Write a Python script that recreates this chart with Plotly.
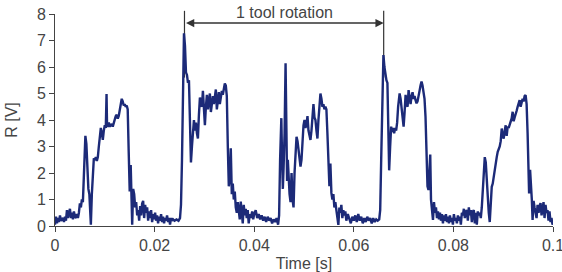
import plotly.graph_objects as go

# Signal samples: (time in ms, R in V), split by region
baseline_start = [(0.0, 0.05), (0.2, 0.35), (0.4, 0.1), (0.6, 0.3), (0.8, 0.15), (1.0, 0.4), (1.2, 0.2),
                  (1.4, 0.25), (1.6, 0.3), (1.8, 0.15), (2.0, 0.35), (2.2, 0.2), (2.4, 0.6), (2.6, 0.3),
                  (2.8, 0.45), (3.0, 0.65), (3.2, 0.3), (3.4, 0.5), (3.6, 0.25), (3.8, 0.55), (4.0, 0.35),
                  (4.2, 0.3), (4.4, 0.45), (4.6, 0.3), (4.8, 0.5), (5.0, 0.85), (5.2, 0.7), (5.4, 1.0),
                  (5.6, 0.9), (5.8, 2.0)]
pulse_1 = [(6.1, 3.4), (6.3, 3.1), (6.5, 2.2), (6.7, 1.4), (6.9, 1.2), (7.1, 0.5), (7.2, 0.05), (7.4, 1.2),
           (7.6, 2.2), (7.8, 2.55), (8.0, 2.5), (8.2, 2.6), (8.4, 2.45), (8.6, 2.6), (8.8, 3.0), (9.0, 3.4),
           (9.2, 3.7), (9.4, 3.5), (9.6, 3.25), (9.8, 3.6), (10.0, 3.8), (10.2, 3.7), (10.35, 4.98),
           (10.45, 3.8), (10.6, 3.75), (10.8, 3.9), (11.0, 3.75), (11.2, 3.8), (11.4, 3.85), (11.6, 3.75),
           (11.8, 3.9), (12.0, 4.05), (12.2, 4.15), (12.4, 4.2), (12.6, 4.05), (12.8, 4.15), (13.0, 4.4),
           (13.2, 4.6), (13.4, 4.8), (13.6, 4.7), (13.8, 4.55), (14.0, 4.6), (14.2, 4.5), (14.4, 4.55),
           (14.6, 4.4), (14.8, 2.8), (14.9, 1.5), (15.0, 1.3), (15.2, 2.3), (15.35, 1.0), (15.5, 0.05),
           (15.7, 1.4), (15.9, 1.2), (16.1, 0.7), (16.3, 0.9), (16.5, 0.4), (16.7, 0.6), (16.9, 0.2),
           (17.1, 0.75), (17.3, 0.4), (17.5, 0.85), (17.7, 0.95), (17.9, 0.3), (18.1, 0.8), (18.3, 0.5),
           (18.5, 0.7), (18.7, 0.2), (18.9, 0.55), (19.1, 0.3), (19.3, 0.6), (19.5, 0.15), (19.7, 0.45),
           (19.9, 0.25), (20.1, 0.5), (20.3, 0.2), (20.5, 0.4), (20.7, 0.1), (20.9, 0.35), (21.1, 0.2),
           (21.3, 0.45), (21.5, 0.15), (21.7, 0.35), (21.9, 0.1), (22.1, 0.3), (22.3, 0.2), (22.5, 0.4),
           (22.7, 0.15), (22.9, 0.3), (23.1, 0.05), (23.3, 0.3), (23.5, 0.2), (23.7, 0.25), (24.0, 0.2),
           (24.4, 0.25), (24.8, 0.2), (25.1, 0.3), (25.3, 0.8), (25.5, 2.5), (25.7, 5.5)]
pulse_2 = [(25.9, 7.27), (26.1, 6.8), (26.3, 5.8), (26.5, 5.7), (26.7, 5.4), (26.9, 5.5), (27.1, 3.6),
           (27.3, 2.4), (27.5, 3.0), (27.7, 3.8), (27.9, 4.0), (28.1, 3.6), (28.3, 3.9), (28.5, 3.5),
           (28.7, 3.3), (28.9, 4.2), (29.1, 4.85), (29.3, 4.6), (29.5, 4.5), (29.7, 5.1), (29.9, 4.2),
           (30.1, 3.8), (30.3, 4.5), (30.5, 4.95), (30.7, 4.4), (30.9, 4.7), (31.1, 5.0), (31.3, 4.3),
           (31.5, 4.7), (31.7, 4.9), (31.9, 4.6), (32.1, 4.8), (32.3, 5.15), (32.5, 4.4), (32.7, 4.8),
           (32.9, 5.05), (33.1, 4.6), (33.3, 4.9), (33.5, 5.1), (33.7, 4.95), (33.9, 5.2), (34.1, 5.38),
           (34.3, 5.3), (34.5, 4.9), (34.7, 3.0), (34.9, 1.5), (35.1, 1.8), (35.3, 2.93), (35.5, 1.2),
           (35.7, 1.6), (35.9, 1.0), (36.1, 1.3), (36.3, 0.7), (36.5, 0.5), (36.7, 0.9), (36.9, 0.4),
           (37.1, 0.25), (37.3, 0.92), (37.5, 0.6), (37.7, 0.1), (37.9, 0.8), (38.1, 0.4), (38.3, 0.65),
           (38.5, 0.3), (38.7, 0.6), (38.9, 0.1), (39.1, 0.45), (39.3, 0.3), (39.6, 0.55), (39.8, 0.25),
           (40.0, 0.45), (40.3, 0.6), (40.6, 0.3), (40.9, 0.45), (41.2, 0.25), (41.5, 0.4), (41.8, 0.2),
           (42.1, 0.35), (42.4, 0.15), (42.7, 0.35), (43.0, 0.2), (43.3, 0.3), (43.6, 0.1), (43.9, 0.25),
           (44.2, 0.15), (44.5, 0.3), (44.8, 0.05), (45.0, 0.4)]
pulse_3 = [(45.2, 2.5), (45.45, 4.07), (45.6, 2.5), (45.75, 1.4), (45.9, 2.2), (46.1, 3.5), (46.3, 6.14),
           (46.45, 3.0), (46.6, 1.7), (46.75, 2.5), (46.9, 1.6), (47.1, 1.2), (47.3, 0.9), (47.5, 2.0),
           (47.7, 1.0), (47.9, 0.7), (48.1, 2.0), (48.3, 2.5), (48.5, 3.37), (48.7, 3.2), (48.9, 2.8),
           (49.1, 2.5), (49.3, 2.24), (49.5, 2.5), (49.7, 3.3), (49.9, 3.8), (50.1, 4.0), (50.3, 3.7),
           (50.5, 3.85), (50.7, 4.15), (50.9, 3.6), (51.1, 3.37), (51.3, 3.25), (51.5, 3.6), (51.7, 4.2),
           (51.9, 4.6), (52.1, 4.1), (52.3, 4.0), (52.5, 3.6), (52.7, 3.3), (52.9, 4.0), (53.1, 4.6),
           (53.3, 5.0), (53.5, 4.8), (53.7, 4.5), (53.9, 4.6), (54.1, 4.4), (54.3, 4.5), (54.5, 4.4),
           (54.7, 3.5), (54.9, 2.3), (55.1, 1.5), (55.3, 2.36), (55.5, 1.25), (55.7, 1.0), (55.9, 1.2),
           (56.1, 0.7), (56.3, 0.9), (56.5, 0.6), (56.7, 0.35), (56.9, 0.04), (57.1, 0.7), (57.3, 0.5),
           (57.5, 0.8), (57.7, 0.3), (57.9, 0.6), (58.1, 0.4), (58.3, 0.55), (58.5, 0.2), (58.8, 0.45),
           (59.1, 0.3), (59.4, 0.1), (59.7, 0.35), (60.0, 0.2), (60.3, 0.4), (60.6, 0.15), (60.9, 0.45),
           (61.2, 0.2), (61.5, 0.35), (61.8, 0.1), (62.1, 0.3), (62.4, 0.15), (62.7, 0.35), (63.0, 0.2),
           (63.3, 0.3), (63.6, 0.1), (63.9, 0.3), (64.2, 0.15), (64.5, 0.25), (64.8, 0.2), (65.1, 0.25),
           (65.3, 0.6), (65.5, 2.5), (65.7, 5.0)]
pulse_4 = [(65.95, 6.45), (66.15, 6.0), (66.35, 5.6), (66.55, 5.5), (66.75, 5.4), (66.9, 4.0), (67.1, 2.1),
           (67.3, 3.0), (67.5, 3.75), (67.7, 3.55), (67.9, 3.7), (68.1, 3.5), (68.3, 3.7), (68.5, 3.6),
           (68.7, 3.9), (68.9, 4.5), (69.2, 5.0), (69.4, 4.8), (69.6, 4.4), (69.8, 4.0), (70.0, 3.75),
           (70.2, 4.3), (70.4, 4.95), (70.6, 4.6), (70.8, 4.5), (71.0, 5.13), (71.2, 4.8), (71.4, 4.6),
           (71.6, 4.9), (71.8, 5.05), (72.0, 4.8), (72.2, 4.9), (72.4, 4.75), (72.6, 4.63), (72.8, 4.7),
           (73.0, 5.0), (73.2, 5.1), (73.4, 5.3), (73.6, 5.45), (73.8, 5.3), (74.0, 5.1), (74.2, 4.8),
           (74.4, 4.13), (74.6, 2.6), (74.8, 1.5), (75.0, 1.36), (75.2, 2.0), (75.35, 2.7), (75.5, 1.0),
           (75.7, 0.6), (75.9, 0.23), (76.1, 0.9), (76.3, 0.5), (76.5, 0.7), (76.7, 0.3), (76.9, 0.55),
           (77.1, 0.25), (77.3, 0.5), (77.5, 0.2), (77.7, 0.45), (77.9, 0.1), (78.1, 0.4), (78.3, 0.2),
           (78.5, 0.45), (78.7, 0.15), (78.9, 0.35), (79.1, 0.1), (79.3, 0.4), (79.5, 0.15), (79.7, 0.3),
           (79.9, 0.05), (80.1, 0.45), (80.3, 0.2), (80.5, 0.3), (80.7, 0.1), (80.9, 0.4), (81.1, 0.2),
           (81.3, 0.35), (81.5, 0.05), (81.7, 0.5), (81.9, 0.4), (82.1, 0.65), (82.3, 0.3), (82.5, 0.55),
           (82.7, 0.6), (82.9, 0.2), (83.1, 0.7), (83.3, 0.4), (83.5, 0.6), (83.7, 0.15), (83.9, 0.55),
           (84.1, 0.6), (84.3, 0.1), (84.5, 0.5), (84.7, 0.05), (84.9, 0.55), (85.1, 0.4), (85.3, 0.5),
           (85.5, 0.3), (85.7, 0.7)]
pulse_5 = [(85.9, 1.5), (86.1, 2.3), (86.3, 2.6), (86.5, 2.4), (86.7, 1.7), (86.9, 1.0), (87.1, 0.5),
           (87.3, 0.15), (87.5, 0.8), (87.7, 1.48), (87.9, 1.6), (88.1, 1.9), (88.3, 2.2), (88.5, 2.5),
           (88.7, 2.6), (88.9, 2.8), (89.1, 2.9), (89.3, 3.0), (89.5, 3.2), (89.7, 3.68), (89.9, 3.4),
           (90.1, 3.3), (90.3, 3.6), (90.5, 3.8), (90.7, 3.4), (90.9, 3.75), (91.1, 3.7), (91.3, 3.8),
           (91.5, 3.95), (91.7, 4.06), (91.9, 4.31), (92.1, 3.95), (92.3, 4.1), (92.5, 4.2), (92.7, 4.35),
           (92.9, 4.5), (93.1, 4.6), (93.3, 4.75), (93.5, 4.5), (93.7, 4.65), (93.9, 4.8), (94.1, 4.7),
           (94.3, 4.9), (94.5, 4.94), (94.7, 4.6), (94.9, 3.5), (95.0, 2.37), (95.2, 1.23), (95.4, 2.12),
           (95.6, 1.0), (95.75, 0.98), (95.9, 0.23), (96.1, 0.95), (96.3, 0.7), (96.5, 0.5), (96.7, 0.3),
           (96.9, 0.8), (97.1, 0.5), (97.3, 0.75), (97.5, 0.86), (97.7, 0.4), (97.9, 0.7), (98.1, 0.9),
           (98.3, 0.3), (98.5, 0.8), (98.7, 0.5), (98.9, 0.6), (99.1, 0.2), (99.3, 0.55), (99.5, 0.15),
           (99.7, 0.3), (99.9, 0.05), (100.0, 0.1)]

x_ticks = [0, 0.02, 0.04, 0.06, 0.08, 0.1]
x_tick_text = ["0", "0.02", "0.04", "0.06", "0.08", "0.1"]
y_ticks = [0, 1, 2, 3, 4, 5, 6, 7, 8]
rotation_start = 0.026
rotation_end = 0.066
rotation_label = "1 tool rotation"

samples = baseline_start + pulse_1 + pulse_2 + pulse_3 + pulse_4 + pulse_5
time_s = [t / 1000 for t, _ in samples]
r_v = [v for _, v in samples]

FONT = "Liberation Sans, Arial, sans-serif"
TXT = "#454545"
FS = 16

fig = go.Figure()
fig.add_trace(go.Scatter(x=time_s, y=r_v, mode="lines",
                         line=dict(color="#1c2a78", width=2.4), hoverinfo="skip"))

# vertical marker lines for one tool rotation
for xv in (rotation_start, rotation_end):
    fig.add_shape(type="line", xref="x", yref="paper", x0=xv, x1=xv, y0=0.7, y1=1.015,
                  line=dict(color="#333333", width=1.2), layer="below")

# double-headed arrow
fig.add_annotation(x=rotation_end, y=7.66, ax=rotation_start, ay=7.66, xref="x", yref="y",
                   axref="x", ayref="y", text="", showarrow=True, arrowhead=2, arrowside="end+start",
                   arrowsize=1.1, arrowwidth=1.5, arrowcolor="#333333", standoff=0, startstandoff=0)
fig.add_annotation(x=(rotation_start + rotation_end) / 2, y=1.005, xref="x", yref="paper",
                   text=rotation_label, showarrow=False, yanchor="middle",
                   font=dict(family=FONT, size=FS, color=TXT))

fig.update_layout(
    width=562, height=272,
    margin=dict(l=55, r=9, t=14, b=46),
    paper_bgcolor="white", plot_bgcolor="white",
    showlegend=False,
    font=dict(family=FONT, size=FS, color=TXT),
)
fig.update_xaxes(range=[0, 0.1], tickvals=x_ticks, ticktext=x_tick_text, automargin=False,
                 ticklabeloverflow="allow",
                 showgrid=False, zeroline=False, showline=True, linecolor="#444444", linewidth=1,
                 ticks="outside", ticklen=5, tickcolor="#444444", tickfont=dict(size=FS, color=TXT),
                 title=dict(text="Time [s]", standoff=4, font=dict(size=FS, color=TXT)))
fig.update_yaxes(range=[0, 8], tickvals=y_ticks, automargin=False, ticklabeloverflow="allow",
                 showgrid=False, zeroline=False, showline=True,
                 linecolor="#444444", linewidth=1, ticks="outside", ticklen=5, tickcolor="#444444",
                 tickfont=dict(size=FS, color=TXT),
                 title=dict(text="R [V]", standoff=15, font=dict(size=FS, color=TXT)))

fig.write_html("out.html")
